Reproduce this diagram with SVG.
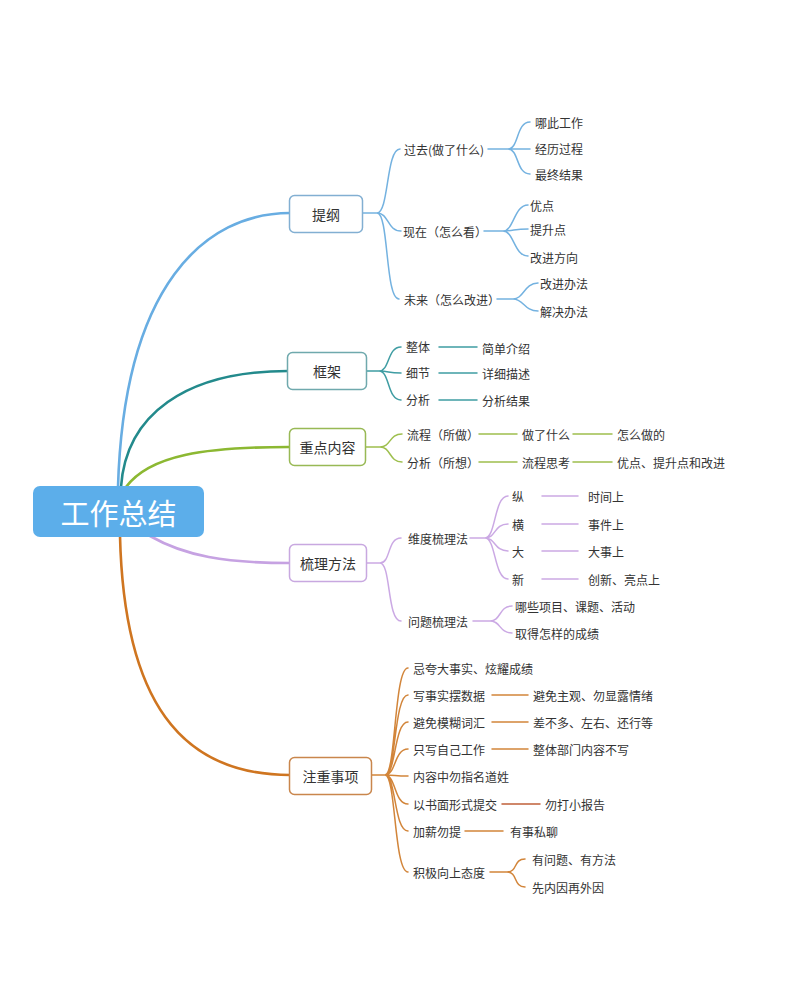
<svg xmlns="http://www.w3.org/2000/svg" width="800" height="1003" viewBox="0 0 800 1003">
<style>
text{font-family:"Noto Sans CJK SC","Noto Sans",sans-serif;fill:#333;dominant-baseline:central}
.t{font-size:12px}
.b{font-size:14px;text-anchor:middle}
.box{fill:#fff;stroke-width:1.5}
.c{fill:none;stroke-linecap:round}
.m{stroke-width:2.6}
.s{stroke-width:1.5}
.blue{stroke:#68ade2}
.teal{stroke:#238a8c}
.green{stroke:#8cb832}
.purple{stroke:#c6a2e2}
.orange{stroke:#cf7520}
.lblue{stroke:#74b2e0}
.lteal{stroke:#3f9da3}
.lgreen{stroke:#9ebf4e}
.lpurple{stroke:#cba9e4}
.lorange{stroke:#d2853a}
</style>
<rect width="800" height="1003" fill="#fff"/>
<g id="connectors">
<path class="c m blue" d="M118,487 C124,285 205,213 290,213"/>
<path class="c m teal" d="M121,487 C126,415 185,371 288,371"/>
<path class="c m green" d="M126,487 C150,455 205,447 289,447"/>
<path class="c m purple" d="M150,536 C185,556 225,563 290,563"/>
<path class="c m orange" d="M120,536 C124,700 180,775 290,775"/>
<!-- 提纲 -->
<path class="c s lblue" d="M362,213 H377 M377,213 C389,213 386,149 400,149 M377,213 C389,213 387,231 401,231 M377,213 C389,213 385,299 399,299"/>
<path class="c s lblue" d="M488,149 H508 M508,149 C519,149 516,122 530,122 M508,149 H530 M508,149 C519,149 516,174 530,174"/>
<path class="c s lblue" d="M484,231 H503 M503,231 C514,231 514,205 528,205 M503,231 C514,231 514,229 528,229 M503,231 C514,231 514,256 528,256"/>
<path class="c s lblue" d="M497,299 H513 M513,299 C524,299 524,283 538,283 M513,299 C524,299 524,311 538,311"/>
<!-- 框架 -->
<path class="c s lteal" d="M366,371 H379 M379,371 C390,371 387,347 401,347 M379,371 C390,371 387,373 401,373 M379,371 C390,371 387,400 401,400"/>
<path class="c s lteal" d="M439,347 H477 M439,373 H477 M439,400 H477"/>
<!-- 重点内容 -->
<path class="c s lgreen" d="M365,447 H380 M380,447 C391,447 389,434 402,434 M380,447 C391,447 389,462 402,462"/>
<path class="c s lgreen" d="M479,434 H517 M573,434 H612 M479,462 H517 M573,462 H612"/>
<!-- 梳理方法 -->
<path class="c s lpurple" d="M366,563 H380 M380,563 C391,563 387,538 401,538 M380,563 C391,563 387,621 401,621"/>
<path class="c s lpurple" d="M470,538 H485 M485,538 C496,538 494,496 508,496 M485,538 C496,538 494,524 508,524 M485,538 C496,538 494,551 508,551 M485,538 C496,538 494,579 508,579"/>
<path class="c s lpurple" d="M542,496 H578 M542,524 H578 M542,551 H578 M542,579 H578"/>
<path class="c s lpurple" d="M473,621 H490 M490,621 C501,621 499,606 512,606 M490,621 C501,621 499,633 512,633"/>
<!-- 注重事项 -->
<path class="c s lorange" d="M371,775 H385 M385,775 C396,775 394,668 408,668 M385,775 C396,775 394,695 408,695 M385,775 C396,775 394,722 408,722 M385,775 C396,775 394,749 408,749 M385,775 C396,775 394,776 408,776 M385,775 C396,775 394,804 408,804 M385,775 C396,775 394,831 408,831 M385,775 C396,775 394,872 408,872"/>
<path class="c s lorange" d="M492,695 H528 M492,722 H528 M492,749 H528 M465,831 H503"/>
<path class="c s" stroke="#c0603a" d="M502,804 H540"/>
<path class="c s lorange" d="M490,872 H507 M507,872 C518,872 513,859 525,859 M507,872 C518,872 513,887 525,887"/>
</g>
<g id="root">
<rect x="33" y="486" width="171" height="51" rx="7" fill="#5caeea"/>
<text x="118.5" y="512" style="font-size:29px;fill:#fff;text-anchor:middle">工作总结</text>
</g>
<g id="n-tigang"><rect class="box" x="289.5" y="195.5" width="73" height="37" rx="5" stroke="#82afd2"/><text class="b" x="326" y="214">提纲</text></g>
<g id="n-kuangjia"><rect class="box" x="287.5" y="352.5" width="79" height="37" rx="5" stroke="#6fa9ad"/><text class="b" x="327" y="371">框架</text></g>
<g id="n-zhongdian"><rect class="box" x="289.5" y="428.5" width="76" height="37" rx="5" stroke="#98b955"/><text class="b" x="327.5" y="447">重点内容</text></g>
<g id="n-shuli"><rect class="box" x="289.5" y="544.5" width="77" height="37" rx="5" stroke="#c8a8e0"/><text class="b" x="328" y="563">梳理方法</text></g>
<g id="n-zhuyi"><rect class="box" x="289.5" y="757.5" width="82" height="37" rx="5" stroke="#c9864c"/><text class="b" x="330.5" y="776">注重事项</text></g>
<g id="n-guoqu"><text class="t" x="404" y="149">过去(做了什么)</text></g>
<g id="n-naci"><text class="t" x="535" y="122">哪此工作</text></g>
<g id="n-jingli"><text class="t" x="535" y="148">经历过程</text></g>
<g id="n-zuizhong"><text class="t" x="535" y="174">最终结果</text></g>
<g id="n-xianzai"><text class="t" x="403" y="231">现在（怎么看）</text></g>
<g id="n-youdian"><text class="t" x="530" y="205">优点</text></g>
<g id="n-tisheng"><text class="t" x="530" y="229">提升点</text></g>
<g id="n-gaijinfx"><text class="t" x="530" y="257">改进方向</text></g>
<g id="n-weilai"><text class="t" x="404" y="299">未来（怎么改进）</text></g>
<g id="n-gaijinbf"><text class="t" x="540" y="283">改进办法</text></g>
<g id="n-jiejue"><text class="t" x="540" y="311">解决办法</text></g>
<g id="n-zhengti"><text class="t" x="406" y="346">整体</text></g>
<g id="n-jiandan"><text class="t" x="482" y="348">简单介绍</text></g>
<g id="n-xijie"><text class="t" x="406" y="372">细节</text></g>
<g id="n-xiangxi"><text class="t" x="482" y="373">详细描述</text></g>
<g id="n-fenxi1"><text class="t" x="406" y="399">分析</text></g>
<g id="n-fenxijg"><text class="t" x="482" y="400">分析结果</text></g>
<g id="n-liucheng"><text class="t" x="407" y="434">流程（所做）</text></g>
<g id="n-zuole"><text class="t" x="522" y="434">做了什么</text></g>
<g id="n-zenme"><text class="t" x="617" y="434">怎么做的</text></g>
<g id="n-fenxi2"><text class="t" x="407" y="462">分析（所想）</text></g>
<g id="n-lcsk"><text class="t" x="522" y="462">流程思考</text></g>
<g id="n-ydts"><text class="t" x="617" y="462">优点、提升点和改进</text></g>
<g id="n-weidu"><text class="t" x="408" y="538">维度梳理法</text></g>
<g id="n-zong"><text class="t" x="512" y="496">纵</text></g>
<g id="n-shijian"><text class="t" x="588" y="496">时间上</text></g>
<g id="n-heng"><text class="t" x="512" y="524">横</text></g>
<g id="n-shijian2"><text class="t" x="588" y="524">事件上</text></g>
<g id="n-da"><text class="t" x="512" y="551">大</text></g>
<g id="n-dashi"><text class="t" x="588" y="551">大事上</text></g>
<g id="n-xin"><text class="t" x="512" y="579">新</text></g>
<g id="n-chuangxin"><text class="t" x="588" y="579">创新、亮点上</text></g>
<g id="n-wenti"><text class="t" x="408" y="621">问题梳理法</text></g>
<g id="n-naxie"><text class="t" x="515" y="606">哪些项目、课题、活动</text></g>
<g id="n-qude"><text class="t" x="515" y="633">取得怎样的成绩</text></g>
<g id="n-z1"><text class="t" x="413" y="668">忌夸大事实、炫耀成绩</text></g>
<g id="n-z2"><text class="t" x="413" y="695">写事实摆数据</text></g>
<g id="n-z2a"><text class="t" x="533" y="695">避免主观、勿显露情绪</text></g>
<g id="n-z3"><text class="t" x="413" y="722">避免模糊词汇</text></g>
<g id="n-z3a"><text class="t" x="533" y="722">差不多、左右、还行等</text></g>
<g id="n-z4"><text class="t" x="413" y="749">只写自己工作</text></g>
<g id="n-z4a"><text class="t" x="533" y="749">整体部门内容不写</text></g>
<g id="n-z5"><text class="t" x="413" y="776">内容中勿指名道姓</text></g>
<g id="n-z6"><text class="t" x="413" y="804">以书面形式提交</text></g>
<g id="n-z6a"><text class="t" x="545" y="804">勿打小报告</text></g>
<g id="n-z7"><text class="t" x="413" y="831">加薪勿提</text></g>
<g id="n-z7a"><text class="t" x="510" y="831">有事私聊</text></g>
<g id="n-z8"><text class="t" x="413" y="872">积极向上态度</text></g>
<g id="n-z8a"><text class="t" x="532" y="859">有问题、有方法</text></g>
<g id="n-z8b"><text class="t" x="532" y="887">先内因再外因</text></g>
</svg>
